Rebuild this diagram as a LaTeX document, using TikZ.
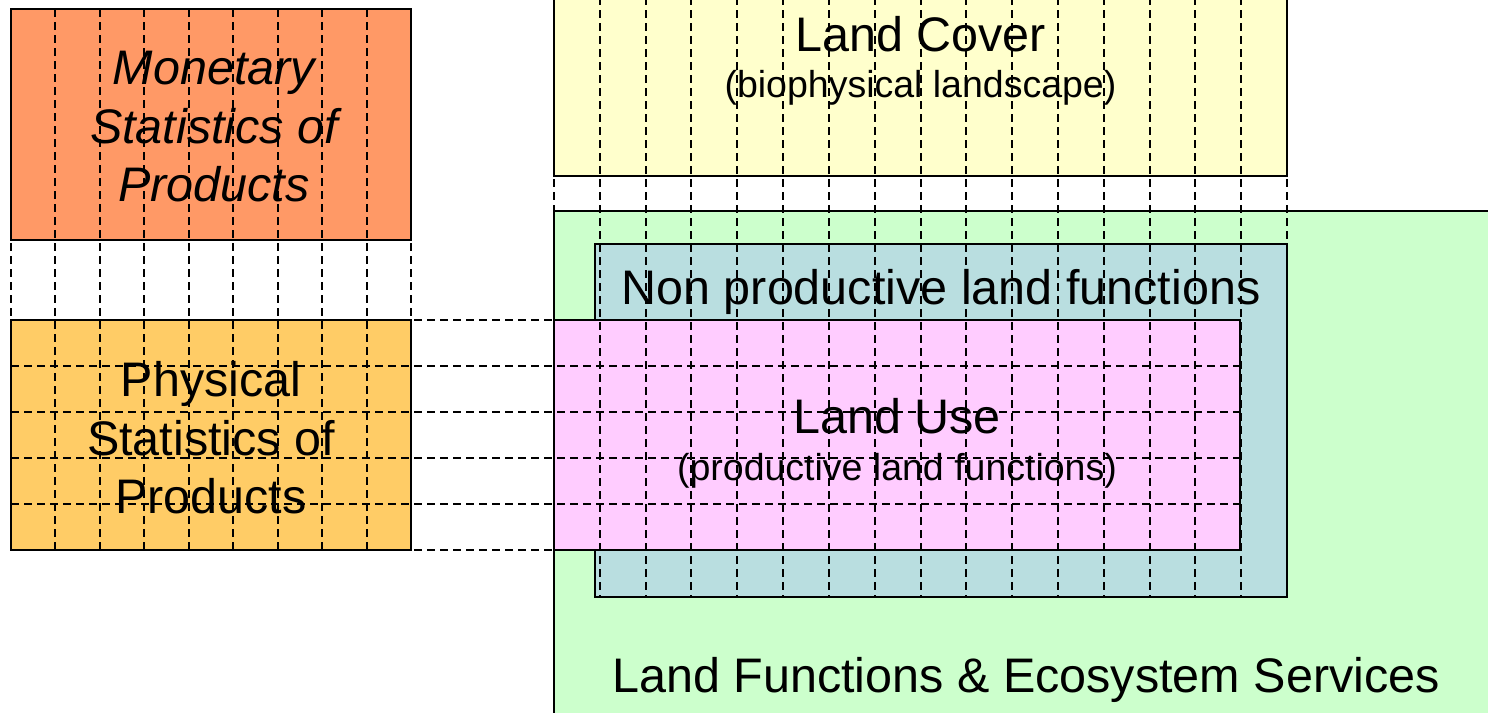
\documentclass[tikz,border=0pt]{standalone}
\usepackage{fontspec}
\setmainfont{Liberation Sans}
\definecolor{monetary}{RGB}{255,153,102}
\definecolor{physical}{RGB}{255,204,102}
\definecolor{cover}{RGB}{255,255,204}
\definecolor{services}{RGB}{204,255,204}
\definecolor{nonprod}{RGB}{185,222,224}
\definecolor{landuse}{RGB}{255,204,255}
\begin{document}
\begin{tikzpicture}[x=1pt,y=-1pt,
  box/.style={draw=black,line width=2.2pt,inner sep=0pt,outer sep=0pt},
  gridline/.style={draw=black,line width=2pt,dash pattern=on 8pt off 5pt},
  big/.style={font=\fontsize{48.5}{58.5}\selectfont,inner sep=0pt},
  small/.style={font=\fontsize{37.5}{44}\selectfont,inner sep=0pt}]

\clip (0,0) rectangle (1488,712);
\fill[white] (0,0) rectangle (1488,712);

% coloured panels
\node[box,fill=monetary,minimum width=400pt,minimum height=231pt] (mon) at (211,124.5) {};
\node[box,fill=physical,minimum width=400pt,minimum height=230pt] (phys) at (211,435) {};
\node[box,fill=cover,minimum width=733pt,minimum height=206pt] (cover) at (920.5,73) {};
\node[box,fill=services,minimum width=946pt,minimum height=530pt] (lfes) at (1027,476) {};
\node[box,fill=nonprod,minimum width=692pt,minimum height=353pt] (nonprod) at (941,420.5) {};
\node[box,fill=landuse,minimum width=686pt,minimum height=230pt] (use) at (897,435) {};

% labels
\node[big,align=center,font=\fontsize{48.5}{58.5}\selectfont\itshape] (monlbl) at (214,127) {Monetary\\Statistics of\\Products};
\node[big,align=center] (physlbl) at (211,438) {Physical\\Statistics of\\Products};
\node[big,anchor=base] (coverlbl) at (920.5,51) {Land Cover};
\node[small,anchor=base] (coversub) at (920.5,97) {(biophysical landscape)};
\node[big,anchor=base] (nonprodlbl) at (941,304) {Non productive land functions};
\node[big,anchor=base] (uselbl) at (897,433) {Land Use};
\node[small,anchor=base] (usesub) at (897,480) {(productive land functions)};
\node[big,anchor=base] (lfeslbl) at (1026,692) {Land Functions \& Ecosystem Services};

% dashed grid laid over the panels
\foreach \k in {0,...,9}
  \draw[gridline] ({11+\k*400/9},9) -- ({11+\k*400/9},550);
\foreach \k in {0,...,16}
  \draw[gridline] ({554+\k*733/16},-3) -- ({554+\k*733/16},597);
\foreach \k in {0,...,5}
  \draw[gridline] (11,{320+\k*46}) -- (1240,{320+\k*46});
\end{tikzpicture}
\end{document}
